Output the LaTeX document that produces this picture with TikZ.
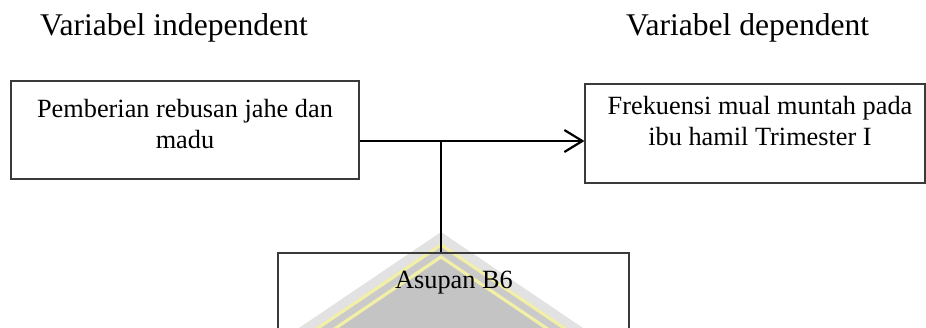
\documentclass[tikz,border=0pt]{standalone}
\usepackage{fontspec}
\setmainfont{Liberation Serif}
\usetikzlibrary{arrows.meta}
\definecolor{boxline}{HTML}{3A3A3A}
\definecolor{wmlight}{HTML}{E2E2E2}
\definecolor{wmyellow}{HTML}{F2EFA6}
\definecolor{wmgray}{HTML}{CACACA}
\definecolor{wmdark}{HTML}{C4C4C4}
\tikzset{
  boxnode/.style={draw=boxline, line width=1.1pt, minimum width=#1, inner sep=0pt},
  boxtext/.style={align=center, inner sep=0pt, font=\fontsize{26.3}{31}\selectfont},
  titletext/.style={inner sep=0pt, anchor=base west, font=\fontsize{31.6}{36}\selectfont},
  flow/.style={line width=1.9pt},
  flowarrow/.style={line width=2.3pt, -{Straight Barb[length=18pt, width=22pt, line width=2.2pt]}},
}
\begin{document}
\begin{tikzpicture}[x=1pt, y=-1pt]
\useasboundingbox (0,0) rectangle (926,327);
% watermark (background)
\fill[wmlight]  (441,232) -- (441-1.48*108,340) -- (441+1.48*108,340) -- cycle;
\fill[wmyellow] (441,243) -- (441-1.48*97,340) -- (441+1.48*97,340) -- cycle;
\fill[wmgray]   (441,247) -- (441-1.48*93,340) -- (441+1.48*93,340) -- cycle;
\fill[wmyellow] (441,255) -- (441-1.48*85,340) -- (441+1.48*85,340) -- cycle;
\fill[wmdark]   (441,259) -- (441-1.48*81,340) -- (441+1.48*81,340) -- cycle;
% titles
\node[titletext] (h1) at (40,35) {Variabel independent};
\node[titletext] (h2) at (626,35) {Variabel dependent};
% boxes
\node[boxnode=348pt, minimum height=98pt] (b1) at (185,130) {};
\node[boxnode=340pt, minimum height=99pt] (b2) at (755,133.5) {};
\node[boxnode=351pt, minimum height=90pt] (b3) at (453.5,298) {};
% texts
\node[boxtext] (t1) at (185,124) {Pemberian rebusan jahe dan\\madu};
\node[boxtext] (t2) at (760,121) {Frekuensi mual muntah pada\\ibu hamil Trimester I};
\node[boxtext, anchor=base] (t3) at (454,288) {Asupan B6};
% connectors
\coordinate (j) at (441,141);
\draw[flowarrow] (b1.east |- j) -- (b2.west |- j);
\draw[flow] (j) -- (j |- b3.north);
\end{tikzpicture}
\end{document}
